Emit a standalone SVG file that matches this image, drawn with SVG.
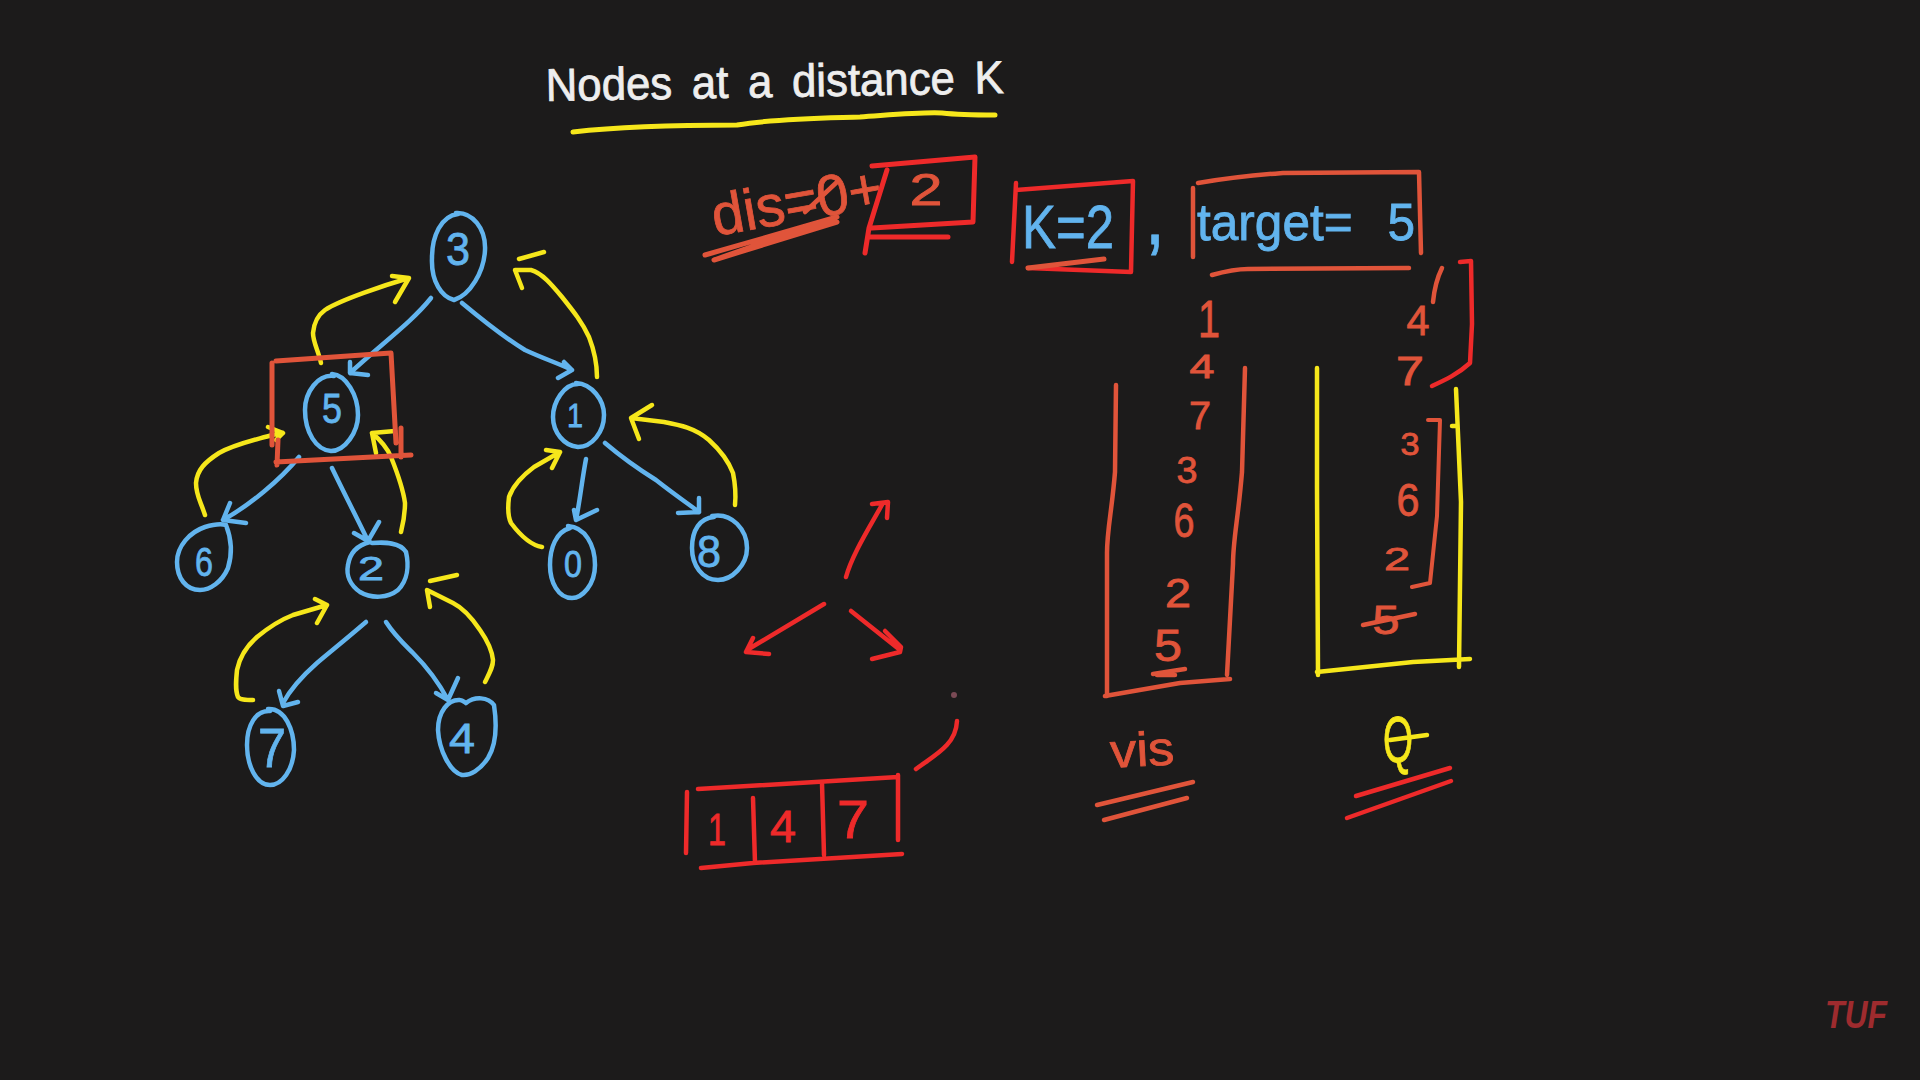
<svg xmlns="http://www.w3.org/2000/svg" width="1920" height="1080" viewBox="0 0 1920 1080">
<style>
path,line{fill:none;stroke-linecap:round;stroke-linejoin:round;stroke-width:4.5}
.b{stroke:#62b4ee}.y{stroke:#f6e71b}.o{stroke:#e0543a}.r{stroke:#ee2a2a}
.w4{stroke-width:5}.w3{stroke-width:4}
text{font-family:"Liberation Sans",Arial,sans-serif;text-anchor:middle;stroke-width:.8}
.tb{fill:#62b4ee;stroke:#62b4ee}.ty{fill:#f6e71b;stroke:#f6e71b}.to{fill:#e0543a;stroke:#e0543a}.tr{fill:#ee2a2a;stroke:#ee2a2a}.tw{fill:#eeeeee;stroke:#eeeeee}
</style>
<rect width="1920" height="1080" fill="#1c1b1b"/>

<g id="title">
<text class="tw" x="775" y="97" font-size="46" textLength="458" lengthAdjust="spacingAndGlyphs" transform="rotate(-1 775 97)" word-spacing="8">Nodes at a distance K</text>
<path class="y w4" d="M573 132C625 126 690 125 737 125C780 118 830 118 860 117C890 115 920 112 942 113C960 115 980 115 995 115"/>
</g>

<g id="connectors">
<g id="tree-edges">
<path class="b" d="M431 298C412 322 380 345 350 373M350 362L350 373L368 375"/>
<path class="b" d="M462 303C480 318 505 338 525 350C542 358 560 364 572 370M558 378L572 370L564 362"/>
<path class="b" d="M299 457C280 480 250 505 223 520M230 503L223 520L246 523"/>
<path class="b" d="M332 468C345 495 358 520 368 541M354 533L368 541L379 522"/>
<path class="b" d="M586 459C582 480 580 500 576 520M574 510L576 520L597 510"/>
<path class="b" d="M605 443C625 460 640 470 656 480C675 495 690 505 699 512M678 513L699 512L699 498"/>
<path class="b" d="M366 622C345 640 330 652 317 663C300 678 290 690 283 703M298 702L283 706L279 691"/>
<path class="b" d="M386 622C395 636 405 645 413 653C428 668 440 685 448 700M436 693L448 700L458 678"/>
</g>
<g id="return-arrows">
<path class="y" d="M321 363C318 350 313 342 313 333C314 322 318 315 325 310C340 300 385 285 409 278M392 276L409 278L395 302"/>
<path class="y" d="M597 377C597 362 594 350 589 337C582 322 574 312 562 297C552 285 542 273 531 270L515 270L522 288"/>
<path class="y" d="M205 515C200 500 196 495 196 483C197 470 205 462 219 453C235 444 255 440 272 435L283 433L268 427M283 433L276 440"/>
<path class="y" d="M401 532C404 520 405 515 405 503C403 488 397 472 391 457C386 445 378 438 372 433L395 431M372 433L376 453"/>
<path class="y" d="M542 547C530 545 520 535 511 523C507 515 508 505 509 497C513 485 522 476 534 467L560 452L546 450M560 452L552 468"/>
<path class="y" d="M735 505C736 495 735 483 733 473C728 460 720 450 709 440C695 428 680 425 664 422L631 418L652 405M631 418L639 439"/>
<path class="y" d="M253 700C245 700 240 700 238 697C235 690 236 680 237 670C240 655 248 645 257 637C268 628 280 620 293 615L327 605L315 599M327 605L317 623"/>
<path class="y" d="M485 682C490 672 493 667 493 660C492 650 487 640 480 630C472 618 463 608 453 603L443 598L427 590L430 607"/>
<path class="y" d="M519 259L544 252"/>
<path class="y" d="M430 581L457 575"/>
</g>
</g>

<g id="node-3"><path class="b" d="M456 213C472 212 486 228 485 250C484 272 470 295 454 300C442 297 431 282 432 258C432 236 441 216 458 214"/><text class="tb" x="458" y="265" font-size="47" textLength="24" lengthAdjust="spacingAndGlyphs">3</text></g>
<g id="node-5"><path class="b" d="M332 374C346 375 358 395 358 415C358 432 345 451 331 451C316 450 305 432 305 410C305 392 318 374 334 376"/><text class="tb" x="332" y="423" font-size="43" textLength="20" lengthAdjust="spacingAndGlyphs">5</text></g>
<g id="node-1"><path class="b" d="M576 383C592 384 604 400 604 415C604 432 592 447 578 447C564 446 553 432 553 417C553 402 564 384 578 384"/><text class="tb" x="575" y="427" font-size="34" textLength="16" lengthAdjust="spacingAndGlyphs">1</text></g>
<g id="node-6"><path class="b" d="M226 525C232 540 232 555 228 568C222 582 210 590 200 590C186 590 177 578 177 562C177 546 190 532 205 527C215 524 222 524 226 525"/><text class="tb" x="204" y="576" font-size="41" textLength="18" lengthAdjust="spacingAndGlyphs">6</text></g>
<g id="node-2"><path class="b" d="M372 543C385 542 400 542 406 552C409 565 408 580 398 590C388 598 372 599 360 592C350 585 346 575 348 565C350 552 358 545 370 542"/><text class="tb" x="371" y="580" font-size="34" textLength="26" lengthAdjust="spacingAndGlyphs">2</text></g>
<g id="node-0"><path class="b" d="M568 526C585 527 595 545 595 565C595 585 582 598 572 598C558 598 550 582 550 565C550 548 556 532 570 528"/><text class="tb" x="573" y="577" font-size="36" textLength="18" lengthAdjust="spacingAndGlyphs">0</text></g>
<g id="node-8"><path class="b" d="M712 516C732 512 747 530 747 548C747 565 732 580 718 580C702 580 692 565 692 548C692 530 700 518 714 517"/><text class="tb" x="709" y="567" font-size="45" textLength="24" lengthAdjust="spacingAndGlyphs">8</text></g>
<g id="node-7"><path class="b" d="M268 709C285 708 294 730 294 750C293 770 282 785 270 785C256 785 247 765 247 745C247 725 256 710 270 711"/><text class="tb" x="272" y="767" font-size="55" textLength="28" lengthAdjust="spacingAndGlyphs">7</text></g>
<g id="node-4"><path class="b" d="M466 703C475 696 488 697 494 705C497 725 496 745 488 758C480 770 470 776 462 775C450 772 439 750 438 730C438 712 448 699 460 700C463 700 465 703 466 703"/><text class="tb" x="462" y="753" font-size="43" textLength="26" lengthAdjust="spacingAndGlyphs">4</text></g>

<g id="target-box">
<path class="o w4" d="M276 361L391 353L396 443M401 428L401 457M272 363L272 445M278 440L277 465M276 462L411 455"/>
</g>

<g id="distance">
<text class="to" x="800" y="221" font-size="58" textLength="172" lengthAdjust="spacingAndGlyphs" transform="rotate(-10 800 221)">dis=0+</text>
<path class="o" d="M805 212L837 182"/>
<path class="o w4" d="M705 255L837 217L714 260L837 222"/>
<path class="r w4" d="M872 166L975 157L973 222L872 228M887 170L869 228L865 253M869 237L948 237"/>
<text class="to" x="926" y="205" font-size="45" textLength="33" lengthAdjust="spacingAndGlyphs">2</text>
</g>

<g id="k-box">
<path class="r" d="M1016 183L1012 262M1016 190L1133 181L1131 272L1028 268"/>
<path class="o w4" d="M1028 268L1104 259"/>
<text class="tb" x="1068" y="248" font-size="62" textLength="92" lengthAdjust="spacingAndGlyphs">K=2</text>
</g>
<g id="comma"><text class="tb" x="1155" y="244" font-size="85" textLength="20" lengthAdjust="spacingAndGlyphs">,</text></g>
<g id="target-label">
<path class="o" d="M1193 188L1193 257M1198 183C1240 176 1270 174 1283 173L1419 172L1421 253M1212 275C1230 270 1240 269 1248 269L1409 268"/>
<text class="tb" x="1306" y="240" font-size="52" textLength="218" lengthAdjust="spacingAndGlyphs" word-spacing="22">target= 5</text>
</g>

<g id="vis-stack">
<path class="o" d="M1116 385L1115 472C1112 510 1107 530 1107 553L1107 696M1105 696L1180 683L1230 679M1245 368L1242 472C1238 520 1233 540 1233 564L1227 675"/>
<text class="to" x="1209" y="337" font-size="52" textLength="22" lengthAdjust="spacingAndGlyphs">1</text>
<text class="to" x="1202" y="378" font-size="34" textLength="25" lengthAdjust="spacingAndGlyphs">4</text>
<text class="to" x="1200" y="429" font-size="38" textLength="22" lengthAdjust="spacingAndGlyphs">7</text>
<text class="to" x="1187" y="483" font-size="37" textLength="21" lengthAdjust="spacingAndGlyphs">3</text>
<text class="to" x="1184" y="537" font-size="48" textLength="21" lengthAdjust="spacingAndGlyphs">6</text>
<text class="to" x="1178" y="607" font-size="40" textLength="26" lengthAdjust="spacingAndGlyphs">2</text>
<text class="to" x="1168" y="661" font-size="45" textLength="28" lengthAdjust="spacingAndGlyphs">5</text>
<path class="o" d="M1153 674L1185 669M1157 675L1175 675"/>
<text class="to" x="1143" y="766" font-size="48" textLength="64" lengthAdjust="spacingAndGlyphs" transform="rotate(-3 1143 766)">vis</text>
<path class="o" d="M1097 805L1193 782M1104 820L1187 798"/>
</g>

<g id="queue-stack">
<path class="y" d="M1317 368L1317 487L1318 675M1317 672L1413 662L1470 659M1456 389L1461 502L1459 667M1452 426L1456 426"/>
<path class="o" d="M1442 268C1436 280 1434 292 1433 302"/>
<text class="to" x="1418" y="335" font-size="43" textLength="23" lengthAdjust="spacingAndGlyphs">4</text>
<text class="to" x="1410" y="385" font-size="40" textLength="28" lengthAdjust="spacingAndGlyphs">7</text>
<path class="r" d="M1460 262L1471 261L1472 324L1470 363C1458 374 1445 380 1432 386"/>
<text class="to" x="1410" y="455" font-size="32" textLength="19" lengthAdjust="spacingAndGlyphs">3</text>
<text class="to" x="1408" y="516" font-size="47" textLength="23" lengthAdjust="spacingAndGlyphs">6</text>
<text class="to" x="1397" y="570" font-size="32" textLength="26" lengthAdjust="spacingAndGlyphs">2</text>
<text class="to" x="1386" y="634" font-size="41" textLength="27" lengthAdjust="spacingAndGlyphs">5</text>
<path class="o" d="M1363 625L1415 614"/>
<path class="o w3" d="M1428 420L1440 420L1437 516L1430 583L1412 587"/>
<text class="ty" x="1398" y="762" font-size="64" textLength="30" lengthAdjust="spacingAndGlyphs">Q</text>
<path class="y" d="M1390 740L1427 735"/>
<path class="r" d="M1356 796L1450 768M1347 818L1451 781"/>
</g>

<g id="direction-arrows">
<path class="r" d="M846 577C852 555 868 530 883 503M872 504L888 502L887 518"/>
<path class="r" d="M824 604L747 650M753 638L746 652L769 654"/>
<path class="r" d="M851 611L900 650M885 631L901 647L900 652L872 659"/>
<circle cx="954" cy="695" r="3" fill="#7a4a55"/>
<path class="r" d="M957 721C956 745 935 755 916 769"/>
</g>

<g id="array">
<path class="r" d="M698 789L898 777M687 792L686 853M898 775L898 840M701 868L753 863L902 854M753 798L755 863M822 783L824 855"/>
<text class="tr" x="717" y="845" font-size="45" textLength="18" lengthAdjust="spacingAndGlyphs">1</text>
<text class="tr" x="783" y="842" font-size="45" textLength="26" lengthAdjust="spacingAndGlyphs">4</text>
<text class="tr" x="853" y="838" font-size="54" textLength="32" lengthAdjust="spacingAndGlyphs">7</text>
</g>

<g id="watermark"><text x="1856" y="1028" font-size="38" font-weight="700" font-style="italic" fill="#9e2b2e" stroke="none" textLength="62" lengthAdjust="spacingAndGlyphs">TUF</text></g>
</svg>
